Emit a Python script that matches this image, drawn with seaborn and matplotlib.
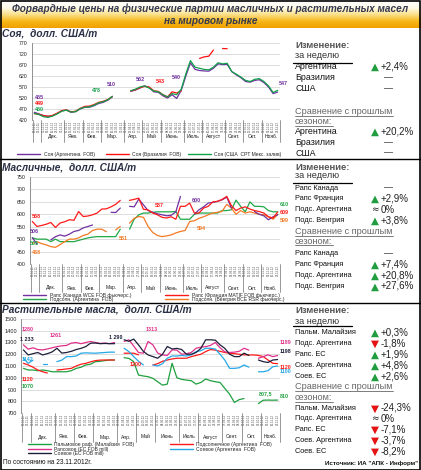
import numpy as np
import pandas as pd
import matplotlib
matplotlib.use('Agg')
import matplotlib.pyplot as plt
import matplotlib.transforms as mtransforms
from matplotlib.lines import Line2D
from matplotlib.patches import Rectangle
from matplotlib.colors import LinearSegmentedColormap
from matplotlib import font_manager
import seaborn as sns

nan = np.nan

# ---------------- data ----------------
weeks = pd.date_range('2011-11-18', periods=54, freq='7D')
week_idx = np.arange(54)
date_labels = [d.strftime('%d.%m.%y') for d in weeks]
month_names = {1: 'Янв.', 2: 'Фев.', 3: 'Мар.', 4: 'Апр.', 5: 'Май', 6: 'Июнь', 7: 'Июль',
               8: 'Август', 9: 'Сент.', 10: 'Окт.', 11: 'Нояб.', 12: 'Дек.'}

# Panel 1: soybeans
soy_arg = [455, 448, 440, 436, 440, 450, 462, 465, 455, 458, 470, 478, 478, 485, 495, 500, 510, 525,
           nan, nan, nan,
           550, 556, 565, 575, 568, 548, 546, 530, 520, 535, 518, 555,
           620, 680, 650, 645, 643, 642, 655, 675, 672, 673, 640, 625, 612, 595, 592, 600, 603, 590, 570, 540, 547]
soy_bra = [449, 446, 440, 437, 441, 451, 463, 466, 457, 460, 473, 482, 483, 490, 500, 505, 513, 527,
           nan, nan, nan,
           552, 558, 567, 573, 570, 553, 550, 535, 525, 548, 543, 552,
           nan, nan, nan, 700, 707, 710, 738, nan, 745, 744,
           nan, nan, nan, nan, nan, nan, nan, nan, nan, nan, nan]
soy_usa = [450, 445, 435, 432, 438, 448, 460, 465, 456, 458, 472, 478, 480, 487, 498, 503, 512, 528,
           nan, nan, nan,
           553, 560, 570, 575, 565, 552, 548, 535, 525, 540, 535, 560,
           630, 690, 660, 655, 650, 648, 660, 680, 675, 678, 640, 628, 615, 600, 595, 605, 608, 595, 575, 545, 555]

# Panel 2: oilseeds
rape_can = [506, 480, nan, nan, 497, 510, 517, 512, 520, 531, 535, 545, 551, 557,
            nan, nan, nan, 608, 607, 625, nan,
            632, 630, 661, 638, 615, 608, 602, 598, 594, 596, 610, 672,
            nan, nan, 600, 618, 630, 645, 648, 652, 658, 669, 625,
            nan, nan, nan, nan, 611, 600, 594, 578, 590, 598]
rape_fra = [571, 551, 555, 560, 567, 547, 565, 570, 578, 576, 611, 591, 593, 598, 605, 621, 622, 630, 640, 656,
            nan,
            656, 660, 665, 620, 618, 605, 598, 588, 585, 590, 580, 632, 632, 645, 605, 605, 625, 632, 650, 652,
            660, 672, 635, 615, 625, 630, 621, 615, 611, 605, 590, 585, 609]
sun_arg = [505, 500, 500, 500, 490, 500, 490, 490, 490, 490, 495, 500, 505, 508, 510, 510, 510, 510, 510, 540,
           nan,
           540, 580, 598, 605, 605, 608, 610, 610, 610, 610, 611, 580, 580, 580, 600, 605, 605, 605, 605, 605,
           615, 615, 618, 657, 632, 610, 650, 632, 632, 630, 615, 610, 610]
sun_hun = [483, 490, 482, 477, 470, 467, 478, 490, 500, 500, 505, 515, 520, 535, 540, 540, 530,
           nan, 537, 551, nan,
           564, 584, 591, 588, 551, 527, 515, 510, 513, 517, 525, 531, 535, 571, 574, 584, 590, 598, 605, 608,
           612, 640, 625, 600, 615, 605, 610, 605, 600, 598, 590, 580, 599]

# Panel 3: vegetable oils
palm = [1080, 1066, 1066, 1060, 1066, 1060, 1051, 1051, 1051, 1051, 1060, 1080, 1089, 1109, 1115, 1137, 1140,
        1146, 1151, 1151, nan,
        1171, 1165, 1137, 1023, 1015, 1009, 995, 966, 937, 946, 1123, 1000, 986, 980, 975, 946, 960, 989, 975,
        966, 960, 909, 860, 790, 814, 823, nan, nan, 780, 809, 810, 809, 810]
sun_oil = [1123, 1109, 1090, 1066, 1051, 1040, nan, 1066, 1070, 1075, 1080, 1100, 1115, 1123, 1135, 1146, 1150,
           1151, 1151, 1151, nan,
           1209, 1209, 1209, 1195, nan, nan,
           1109, 1120, 1140, 1151, 1160, 1166, 1166, 1166, 1180, 1190, 1200, 1223, 1240, 1235, 1225, 1215, 1209,
           1205, 1200, 1195, 1194, 1194, 1190, 1180, 1151, 1123, 1120]
rape_oil = [1280, 1243, 1255, 1240, 1237, 1245, 1255, 1265, 1272, 1275, 1295, 1300, 1290, 1300, 1309, 1300, 1292,
            1295, 1290, 1300, nan,
            1309, 1323, 1270, 1215, 1209, 1309, 1280, 1210, 1194, 1190, 1237, 1235, 1200, 1205, 1215, 1251, 1260,
            1265, 1275, 1300, 1255, 1220, 1215, 1218, 1225, 1251, 1235, nan, 1166, 1180, 1195, 1180, 1189]
soy_oil_arg = [1166, 1123, 1150, nan, 1117, 1117, nan, 1137, 1150, 1180, 1180, 1185, 1209, 1212, 1210, 1209,
               1212, 1215, 1218, 1218, nan,
               1251, 1222, 1180, 1140, 1109, nan,
               1109, 1100, 1120, 1166, 1185, 1185, 1190, 1185, 1195, 1223, 1230, 1251, 1251, 1245, 1200, 1150,
               1080, 1080, 1085, 1109, 1090, nan, 1051, 1051, 1060, 1094, 1100]
soy_oil_eu = [1237, 1194, 1205, 1215, 1194, 1205, 1220, 1251, 1210, 1215, 1225, 1240, 1250, 1265, 1294, 1296,
              1290, 1292, 1290, 1290, nan,
              1323, 1310, 1329, 1280, 1225, 1194, 1180, 1166, 1200, 1266, 1245, 1250, 1240, 1200, 1200, 1215,
              1250, 1323, 1323, 1320, 1280, 1250, 1200, 1180, 1180, 1209, 1190, nan, 1151, 1137, 1130, 1151, 1155]

# legends / labels
p1_names = ['Соя (Аргентина  FOB)', 'Соя (Бразилия  FOB)', 'Соя (США  CPT Мекс. залив)']
p2_names = ['Рапс (Канада WCE FOB фьючерс.)', 'Подсолн. (Аргентина  FOB)',
            'Рапс (Франция MATIF FOB фьючерс.)', 'Подсолн. (Венгрия BCE RSR фьючерс.)']
p3_names = ['Пальмовое раф. (Малайзия  FOB)', 'Рапсовое (ЕС FOB mill)', 'Соевое (ЕС FOB mill)',
            'Подсолнечное (Аргентина  FOB)', 'Соевое (Аргентина  FOB)']

# value annotations: (text, week, value, colour-key)
p1_notes = [('455', 1.1, 523, 'a'), ('449', 1.1, 495, 'b'), ('450', 1.1, 468, 'c'),
            ('478', 13.6, 553, 'c'), ('510', 16.8, 581, 'a'), ('562', 23.2, 604, 'a'),
            ('543', 27.4, 593, 'b'), ('540', 31.0, 612, 'a'), ('547', 54.3, 587, 'a')]
p2_notes = [('568', 0.8, 591, 'b'), ('506', 0.5, 531, 'a'), ('505', 0.5, 483, 'c'), ('468', 0.8, 446, 'd'),
            ('587', 27.4, 636, 'b'), ('600', 35.4, 656, 'a'), ('594', 36.4, 544, 'd'), ('551', 19.6, 504, 'd'),
            ('610', 54.4, 638, 'c'), ('609', 54.4, 606, 'b'), ('599', 54.4, 574, 'd')]
p3_notes = [('1280', 0.8, 1409, 'r'), ('1 233', 0.8, 1323, 'n'), ('1142', 0.8, 1157, 'l'),
            ('1120', 0.8, 986, 's'), ('1070', 0.8, 923, 'g'), ('1261', 6.7, 1357, 'r'),
            ('1 290', 19.2, 1343, 'n'), ('1313', 26.8, 1409, 'r'), ('1200', 23.5, 1109, 's'),
            ('807,5', 50.4, 866, 'g'), ('1189', 54.6, 1297, 'r'), ('1198', 54.6, 1220, 'n'),
            ('1120', 54.6, 1091, 's'), ('1100', 54.6, 1049, 'l'), ('810', 54.4, 843, 'g')]

# right-hand tables: (name, direction, value)
p1_week = [('Аргентина', 'up', '+2,4%'), ('Бразилия', None, '—'), ('США', None, '—')]
p1_season = [('Аргентина', 'up', '+20,2%'), ('Бразилия', None, '—'), ('США', None, '—')]
p2_week = [('Рапс Канада', None, '—'), ('Рапс Франция', 'up', '+2,9%'),
           ('Подс. Аргентина', 'eq', '0%'), ('Подс. Венгрия', 'up', '+3,8%')]
p2_season = [('Рапс Канада', None, '—'), ('Рапс Франция', 'up', '+7,4%'),
             ('Подс. Аргентина', 'up', '+20,8%'), ('Подс. Венгрия', 'up', '+27,6%')]
p3_week = [('Пальм. Малайзия', 'up', '+0,3%'), ('Подс. Аргентина', 'down', '-1,8%'),
           ('Рапс. ЕС', 'up', '+1,9%'), ('Соев. Аргентина', 'up', '+4,8%'), ('Соев. ЕС', 'up', '+2,6%')]
p3_season = [('Пальм. Малайзия', 'down', '-24,3%'), ('Подс. Аргентина', 'eq', '0%'),
             ('Рапс. ЕС', 'down', '-7,1%'), ('Соев. Аргентина', 'down', '-3,7%'), ('Соев. ЕС', 'down', '-8,2%')]

# ---------------- style ----------------
sns.set_style('white')
plt.rcParams['font.family'] = ['Liberation Sans', 'DejaVu Sans']
names_avail = {f.name for f in font_manager.fontManager.ttflist}
if 'Liberation Sans Narrow' in names_avail:
    NARROW, NSIZE = ['Liberation Sans Narrow', 'DejaVu Sans'], 6.4
else:
    NARROW, NSIZE = ['Liberation Sans', 'DejaVu Sans'], 5.3

W, H = 421, 470
fig = plt.figure(figsize=(W / 100, H / 100), dpi=100)
fig.patch.set_facecolor('white')


def fx(x):
    return x / W


def fy(y):
    return 1 - y / H


def add_ax(x0, y0, x1, y1):
    return fig.add_axes([fx(x0), fy(y1), (x1 - x0) / W, (y1 - y0) / H])


def T(x, y, s, **kw):
    kw.setdefault('va', 'center')
    fig.text(fx(x), fy(y), s, **kw)


def HL(x0, x1, y, color='black', lw=0.8):
    fig.add_artist(Line2D([fx(x0), fx(x1)], [fy(y), fy(y)], transform=fig.transFigure, color=color, lw=lw))


# title band
axt = fig.add_axes([0, fy(28), 1, 27 / H])
cmap = LinearSegmentedColormap.from_list('g', ['#ffffff', '#fffbe8', '#fbe08a', '#f6b81a', '#f0a000'])
axt.imshow(np.linspace(0, 1, 64).reshape(-1, 1), aspect='auto', cmap=cmap, extent=[0, 1, 0, 1], origin='upper')
axt.axis('off')
tcol = '#34384f'
T(210.5, 9, 'Форвардные цены на физические партии масличных и растительных масел', ha='center',
  fontsize=7.2, fontweight='bold', style='italic', color=tcol)
T(210.5, 21, 'на мировом рынке', ha='center', fontsize=7.2, fontweight='bold', style='italic', color=tcol)


def draw_lines(ax, series, colors, lw=0.9):
    rows = []
    for name, vals in series.items():
        v = np.asarray(vals, float)
        seg = np.cumsum(np.isnan(v))
        for i, val in enumerate(v):
            if not np.isnan(val):
                rows.append((i, val, name, f'{name}_{seg[i]}'))
    df = pd.DataFrame(rows, columns=['week', 'value', 'series', 'seg'])
    sns.lineplot(data=df, x='week', y='value', hue='series', units='seg', estimator=None,
                 palette=colors, hue_order=list(series), ax=ax, legend=False, lw=lw)


def style_ax(ax, ylim, step, height_px, band_px, month_px, sep_px, ysize=3.8):
    ax.set_xlim(-0.3, 53.5)
    ax.set_ylim(*ylim)
    ax.set_yticks(np.arange(ylim[0], ylim[1] + 1, step))
    ax.set_xlabel('')
    ax.set_ylabel('')
    ax.grid(axis='y', color='#cfcfcf', lw=0.5)
    ax.grid(axis='x', visible=False)
    for s in ['top', 'right', 'bottom']:
        ax.spines[s].set_visible(False)
    ax.spines['left'].set_color('#7f7f7f')
    ax.spines['left'].set_linewidth(0.6)
    ax.tick_params(axis='y', length=0, labelsize=ysize, pad=3, labelcolor='#202020')
    ax.set_xticks(np.arange(55) - 0.5)
    ax.set_xticklabels([])
    ax.tick_params(axis='x', which='major', length=band_px * 0.72, width=0.35, color='#a8a8a8', direction='out')
    ax.set_xticks(week_idx, minor=True)
    ax.set_xticklabels(date_labels, minor=True, rotation=90, fontsize=2.1, color='#505050')
    ax.tick_params(axis='x', which='minor', length=0, pad=0.8)
    tr = mtransforms.blended_transform_factory(ax.transData, ax.transAxes)
    months = [d.month for d in weeks]
    starts = [i for i in range(54) if i == 0 or months[i] != months[i - 1]]
    ends = starts[1:] + [54]
    for s, e in zip(starts, ends):
        ax.plot([max(s - 0.5, -0.3)] * 2, [0, -sep_px / height_px], transform=tr, clip_on=False,
                color='#707070', lw=0.5)
        if e - s >= 3:
            ax.text((s + e - 1) / 2, -month_px / height_px, month_names[months[s]], transform=tr,
                    ha='center', va='center', fontsize=3.6, color='#202020')
    ax.plot([53.5, 53.5], [0, -sep_px / height_px], transform=tr, clip_on=False, color='#707070', lw=0.5)


def notes(ax, items, cmapd):
    for txt, w, v, k in items:
        ax.text(w, v, txt, color=cmapd[k], fontsize=3.9, fontweight='bold', ha='center', va='center',
                clip_on=False)


def legend_entry(color, label, x, y, lw=1.0):
    h = [Line2D([], [], color=color, lw=lw)]
    fig.legend(h, [label], loc='center left', bbox_to_anchor=(fx(x), fy(y)), frameon=False,
               fontsize=3.6, handlelength=4.6, handletextpad=0.7, borderpad=0, borderaxespad=0)


def table(rows, y0, dy, narrow):
    for j, (name, d, val) in enumerate(rows):
        y = y0 + j * dy
        if narrow:
            T(295, y, name, fontsize=NSIZE, family=NARROW, color='#111111')
        else:
            T(295, y, name, fontsize=6.4, color='#111111')
        if d == 'up':
            T(375, y + 0.3, '▲', ha='center', fontsize=7.5, color='#1f9d3f', family='DejaVu Sans')
        elif d == 'down':
            T(375, y + 0.3, '▼', ha='center', fontsize=7.5, color='#e41212', family='DejaVu Sans')
        elif d == 'eq':
            T(375, y, '≈', ha='center', fontsize=6.5, color='#222222', family='DejaVu Sans')
        if d is None:
            T(388, y, val, ha='center', fontsize=6.5, color='#222222')
        else:
            T(381, y, val, fontsize=7, color='#222222')


def header(y_izm, y_week, y_line, y_cmp, y_season):
    T(295, y_izm, 'Изменение:', fontsize=6.8, fontweight='bold', color='#555555')
    T(295, y_week, 'за неделю', fontsize=6.6, color='#333333')
    HL(293, 352, y_line, 'black', 0.9)
    T(295, y_cmp, 'Сравнение с прошлым', fontsize=6.6, color='#666666')
    HL(295, 393, y_cmp + 4.5, '#666666', 0.6)
    T(295, y_season, 'сезоном:', fontsize=6.6, color='#666666')
    HL(295, 333, y_season + 4.5, '#666666', 0.6)


ptitle = dict(fontsize=7.3, fontweight='bold', style='italic', color='#2a3045', va='center')

# ---------------- panel 1 ----------------
T(2, 33, 'Соя,  долл. США/т', **ptitle)
ax1 = add_ax(32, 43, 280, 120)
c1 = ['#7030a0', '#ff1010', '#10a04a']
draw_lines(ax1, {p1_names[0]: soy_arg, p1_names[1]: soy_bra, p1_names[2]: soy_usa}, c1)
style_ax(ax1, (420, 770), 50, 77, 14, 17, 22)
notes(ax1, p1_notes, {'a': c1[0], 'b': c1[1], 'c': c1[2]})
for col, lab, x in zip(c1, p1_names, [17, 106, 188]):
    legend_entry(col, lab, x, 154.3)
header(46, 56, 62.7, 111, 121)
table(p1_week, 66.7, 11.1, False)
table(p1_season, 131.7, 10.7, False)
HL(0, 421, 158.5, 'black', 1.0)

# ---------------- panel 2 ----------------
T(2, 167, 'Масличные,  долл. США/т', **ptitle)
ax2 = add_ax(30, 177, 280, 264)
c2 = {'a': '#7030a0', 'b': '#ff1a1a', 'c': '#22a84a', 'd': '#f47a24'}
draw_lines(ax2, {p2_names[1]: sun_arg, p2_names[3]: sun_hun, p2_names[0]: rape_can, p2_names[2]: rape_fra},
           [c2['c'], c2['d'], c2['a'], c2['b']])
style_ax(ax2, (400, 750), 50, 87, 18, 24, 28)
notes(ax2, p2_notes, c2)
legend_entry(c2['a'], p2_names[0], 23, 295)
legend_entry(c2['c'], p2_names[1], 23, 299.5)
legend_entry(c2['b'], p2_names[2], 165, 295)
legend_entry(c2['d'], p2_names[3], 165, 299.5)
header(167, 176, 182.7, 231.5, 241)
table(p2_week, 188, 10.9, True)
table(p2_season, 253.3, 10.9, True)
HL(0, 421, 303, 'black', 1.0)

# ---------------- panel 3 ----------------
T(2, 310, 'Растительные масла,  долл. США/т', **ptitle)
ax3 = add_ax(21, 319, 280, 413)
c3 = {'g': '#1fa040', 's': '#ff1a1a', 'r': '#e0308c', 'l': '#25a8e6', 'n': '#1d1f3a'}
draw_lines(ax3, {p3_names[0]: palm, p3_names[3]: sun_oil, p3_names[1]: rape_oil,
                 p3_names[4]: soy_oil_arg, p3_names[2]: soy_oil_eu},
           [c3['g'], c3['s'], c3['r'], c3['l'], c3['n']])
style_ax(ax3, (700, 1500), 100, 94, 19, 24, 29, ysize=4.0)
notes(ax3, p3_notes, c3)
legend_entry(c3['g'], p3_names[0], 28, 444.3)
legend_entry(c3['r'], p3_names[1], 28, 449)
legend_entry(c3['n'], p3_names[2], 28, 453.5)
legend_entry(c3['s'], p3_names[3], 170, 444.3)
legend_entry(c3['l'], p3_names[4], 170, 449)
header(310.7, 321, 325.7, 386.7, 397.5)
table(p3_week, 332.7, 10.9, True)
table(p3_season, 408, 10.9, True)

T(3, 463, 'По состоянию на 23.11.2012г.', fontsize=4.7, color='#111111')
T(418, 463, 'Источник: ИА "АПК - Информ"', ha='right', fontsize=4.5, fontweight='bold', color='#111111')

fig.add_artist(Rectangle((0.5 / W, 0.5 / H), 1 - 1.5 / W, 1 - 1.5 / H, transform=fig.transFigure,
                         fill=False, ec='black', lw=1.2))

fig.savefig('out.png', dpi=100)
